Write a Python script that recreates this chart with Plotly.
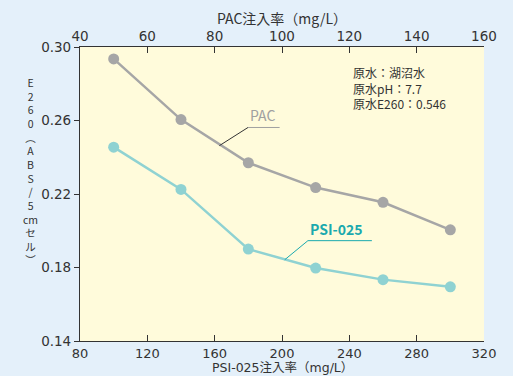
import plotly.graph_objects as go

# Data
pac_dose = [50, 70, 90, 110, 130, 150]          # PAC 注入率 (mg/L), top axis
pac_e260 = [0.2935, 0.2605, 0.2370, 0.2235, 0.2155, 0.2005]
psi_dose = [100, 140, 180, 220, 260, 300]       # PSI-025 注入率 (mg/L), bottom axis
psi_e260 = [0.2455, 0.2225, 0.1900, 0.1797, 0.1734, 0.1695]

bottom_ticks = [80, 120, 160, 200, 240, 280, 320]
top_ticks = [40, 60, 80, 100, 120, 140, 160]
y_ticks = [0.14, 0.18, 0.22, 0.26, 0.30]
y_ticktext = ["0.14", "0.18", "0.22", "0.26", "0.30"]

note_lines = ["原水：湖沼水", "原水pH：7.7", "原水E260：0.546"]
ytitle_chars = ["E", "2", "6", "0", "︵", "A", "B", "S", "/", "5", "cm", "セ", "ル", "︶"]

FONT = "Noto Sans CJK JP"
NUMFONT = "DejaVu Sans"
TXT = "#333333"
GRAY = "#a6a6a6"
TEAL = "#8fd2d2"

fig = go.Figure()
fig.add_trace(go.Scatter(x=psi_dose, y=psi_e260, mode="lines+markers", xaxis="x", yaxis="y",
                         line=dict(color=TEAL, width=2.5), marker=dict(color=TEAL, size=11),
                         showlegend=False, hoverinfo="skip"))
fig.add_trace(go.Scatter(x=pac_dose, y=pac_e260, mode="lines+markers", xaxis="x2", yaxis="y",
                         line=dict(color=GRAY, width=2.5), marker=dict(color=GRAY, size=11),
                         showlegend=False, hoverinfo="skip"))

axis_common = dict(showgrid=False, zeroline=False, showline=True, linecolor="#333333", linewidth=1.2,
                   tickcolor="#333333", tickfont=dict(family=NUMFONT, size=13.5, color=TXT))

fig.update_layout(
    width=513, height=376,
    margin=dict(l=80, r=29, t=47, b=35),
    paper_bgcolor="#e4f0fa", plot_bgcolor="#fffbdb",
    font=dict(family=FONT, color=TXT),
    xaxis=dict(range=[80, 320], tickvals=bottom_ticks, ticks="inside", ticklen=6, side="bottom", **axis_common),
    xaxis2=dict(range=[40, 160], tickvals=top_ticks, ticks="inside", ticklen=6, side="top",
                overlaying="x", anchor="y", **axis_common),
    yaxis=dict(range=[0.14, 0.30], tickvals=y_ticks, ticktext=y_ticktext, ticks="outside", ticklen=5,
               **axis_common),
)
fig.update_xaxes(tickfont=dict(size=13), selector=dict(side="bottom"))

anns = []
anns.append(dict(text="PAC注入率（mg/L）", x=0.5, y=1.10, xref="paper", yref="paper", showarrow=False,
                 font=dict(family=FONT, size=14, color=TXT), xanchor="center", yanchor="middle"))
anns.append(dict(text="PSI-025注入率（mg/L）", x=0.5, y=-(376 - 341) / 294, xref="paper", yref="paper",
                 showarrow=False, font=dict(family="DejaVu Sans, Noto Sans CJK JP", size=12.5, color=TXT),
                 xanchor="center", yanchor="bottom", borderpad=0))
anns.append(dict(text="<br>".join(ytitle_chars), x=(30 - 80) / 404, y=1 - (171 - 47) / 294,
                 xref="paper", yref="paper", showarrow=False, align="center",
                 font=dict(family=FONT, size=10.5, color=TXT), xanchor="center", yanchor="middle"))
anns.append(dict(text="<br>".join(note_lines), x=(351 - 80) / 404, y=1 - (88 - 47) / 294,
                 xref="paper", yref="paper", showarrow=False, align="left",
                 font=dict(family=FONT, size=12, color=TXT), xanchor="left", yanchor="middle"))
anns.append(dict(text="PAC", x=179.8, y=0.2562, xref="x", yref="y", showarrow=False,
                 font=dict(family=FONT, size=14, color="#a0a0a0"), xanchor="left", yanchor="bottom"))
anns.append(dict(text="<b>PSI-025</b>", x=215.4, y=0.1946, xref="x", yref="y", showarrow=False,
                 font=dict(family=FONT, size=14, color="#1aa9ae"), xanchor="left", yanchor="bottom"))
fig.update_layout(annotations=anns)

fig.add_shape(type="line", xref="x", yref="y", x0=162.8, y0=0.2463, x1=179.8, y1=0.2562,
              line=dict(color="#333333", width=1))
fig.add_shape(type="line", xref="x", yref="y", x0=179.8, y0=0.2562, x1=198.6, y1=0.2562,
              line=dict(color="#a0a0a0", width=1))
fig.add_shape(type="line", xref="x", yref="y", x0=201.6, y0=0.1842, x1=215.4, y1=0.1946,
              line=dict(color="#1aa9ae", width=1))
fig.add_shape(type="line", xref="x", yref="y", x0=215.4, y0=0.1946, x1=253.4, y1=0.1946,
              line=dict(color="#1aa9ae", width=1))

fig.write_html("out.html", config={"displayModeBar": False},
               post_script="document.body.style.margin='0';document.body.style.overflow='hidden';")
